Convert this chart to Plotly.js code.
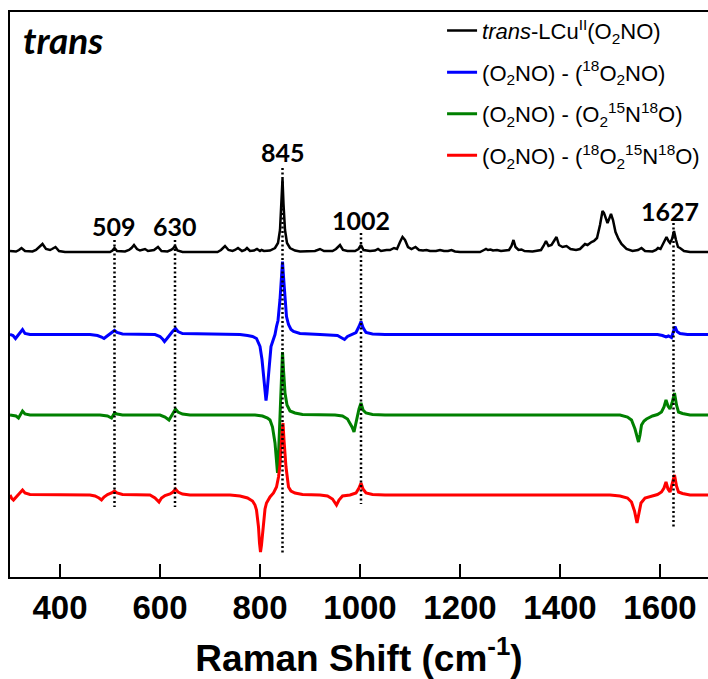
<!DOCTYPE html>
<html><head><meta charset="utf-8">
<script src="https://cdn.plot.ly/plotly-3.0.1.min.js"></script>
<style>html,body{margin:0;padding:0;background:#fff;overflow:hidden}</style>
</head><body><div id="chart" style="width:708px;height:679px"></div>
<script>
// ---- data (Raman shift cm-1, relative intensity) ----
const seriesNames = [
  '<i>trans</i>-LCu<sup>II</sup>(O<sub>2</sub>NO)',
  '(O<sub>2</sub>NO) - (<sup>18</sup>O<sub>2</sub>NO)',
  '(O<sub>2</sub>NO) - (O<sub>2</sub><sup>15</sup>N<sup>18</sup>O)',
  '(O<sub>2</sub>NO) - (<sup>18</sup>O<sub>2</sub><sup>15</sup>N<sup>18</sup>O)'
];
const seriesOffsets = [325, 242.5, 162, 82];

const blackPts = [[300,1],[312,0.5],[318,2],[323,4],[330,1],[345,0.5],[352,2],[358,5],[365,8],[372,3],[380,2],[384,3],[391,5],[398,1],[410,0],
[500,0],[505,1.5],[509,4],[514,1],[530,0.5],[538,2],[543,4],[548,7],[554,3],[560,1.5],[570,3],[576,1],[588,2],[596,5],[603,1],[615,0.5],[622,2],[626,3.5],[630,6],[635,1.5],[645,0],
[715,0],[722,2],[730,6],[737,2],[745,1],[750,2],[756,4],[764,1],[770,2],[774,4],[780,1],[788,1.5],[794,3],[800,1],[803,2],[808,1],[820,1.5],[830,4],[836,9],[840,22],[843,48],[845,73],[847,48],[850,22],[854,9],[860,4],[870,1.5],[880,0.5],
[910,1],[920,3],[928,1],[945,1],[952,3],[960,7],[966,2],[975,1],[990,1],[997,3],[1002,7],[1007,2],[1020,1],[1030,1.5],[1036,3],[1042,1],[1053,2],[1060,2],[1068,4],[1074,3],[1080,10],[1085,15],[1090,12],[1096,5],[1103,3],[1111,5],[1118,2],[1126,1.5],[1133,2],[1140,1],[1152,1],[1160,2],[1168,1],[1176,1],[1183,2],[1190,0.5],[1200,0],
[1240,0],[1248,2],[1252,3],[1256,2],[1261,2.5],[1266,1.5],[1274,2],[1282,1],[1298,2],[1303,6],[1307,12],[1311,5],[1317,2],[1323,2.5],[1329,1],[1345,0.5],[1362,2],[1367,6],[1372,11],[1377,6],[1383,7],[1388,11],[1393,15],[1398,7],[1405,5],[1413,6],[1421,3],[1432,2],[1440,3],[1446,6],[1450,8],[1455,7],[1460,9],[1463,10],[1468,11],[1474,14],[1480,27],[1485,41],[1488,39],[1492,32],[1495,29],[1499,34],[1502,38],[1506,32],[1511,20],[1517,13],[1523,8],[1533,3],[1545,1],[1556,2],[1563,4],[1570,1],[1585,0.5],[1592,2],[1596,4],[1601,3],[1606,8],[1613,15],[1617,11],[1620,9],[1624,13],[1628,21],[1632,12],[1636,5],[1640,4],[1648,1],[1660,0],[1696,0]];

const bluePts = [[300,0],[306,-1],[311,-4],[316,-1],[321,3],[325,5],[330,1],[340,0],[460,0],[475,-1],[483,-2.5],[488,-4],[493,-2],[500,1],[505,3],[509,4],[514,2],[525,0.5],
[590,0],[600,-2],[606,-5],[609,-7],[614,-4],[620,0],[625,3],[631,6],[636,3],[645,1],[700,0.5],[760,0],[775,-1],[785,-2],[793,-4],[800,-12],[804,-25],[807,-42],[810,-60],[812,-66],[814,-58],[817,-40],[819,-25],[822,-12],[826,-6],[830,0],[833,8],[836,14],[840,35],[843,60],[845,73],[847,58],[850,35],[853,18],[857,10],[862,5],[867,3],[880,1],
[920,0],[955,-1],[962,-3],[969,-5],[975,-2],[985,0],[992,2],[998,8],[1002,13],[1006,7],[1012,2],[1025,0.5],[1050,0],[1595,0],[1605,-1],[1612,-2.5],[1617,-1.5],[1623,-3],[1626,2],[1630,8],[1634,3],[1640,1],[1655,0],[1696,0]];

const greenPts = [[300,0],[312,-1],[317,-3],[321,0],[325,4],[330,1],[340,0],[480,0],[495,-1],[503,-3],[506,0],[509,2],[514,1],[525,0],
[600,0],[610,-2],[618,-5],[622,-2],[626,2],[631,6],[636,3],[645,1],[660,0],[790,0],[805,-1],[815,-3],[820,-5],[825,-12],[830,-28],[833,-45],[835,-58],[837,-40],[840,-5],[842,20],[844,45],[845,63],[847,45],[850,22],[854,10],[860,4],[870,2],[885,0.5],
[950,0],[965,-1],[975,-4],[980,-8],[984,-12],[988,-17],[991,-10],[994,-2],[998,6],[1002,12],[1006,5],[1012,2],[1025,0.5],[1050,0],[1520,0],[1535,-2],[1543,-5],[1550,-14],[1554,-22],[1557,-27],[1560,-20],[1563,-10],[1568,-6],[1573,-4],[1585,-1],[1595,0.5],[1603,3],[1608,8],[1612,15],[1616,9],[1620,6],[1624,12],[1629,22],[1633,10],[1637,3],[1645,1.5],[1660,0],[1696,0]];

const redPts = [[300,0],[303,-3],[307,-5],[312,-2],[318,1],[325,5],[330,2],[340,0.5],[460,0],[470,-1],[478,-3],[483,-5],[488,-2],[495,0.5],[503,2],[509,4],[514,2],[525,0.5],
[580,0],[590,-3],[598,-7],[603,-3],[610,-0.5],[620,1],[626,3],[631,6],[636,3],[645,1],[660,0],[740,0],[760,-1],[775,-3],[785,-6],[790,-10],[793,-15],[797,-32],[799,-48],[801,-57],[803,-50],[807,-25],[810,-14],[813,-8],[820,-2],[827,2],[833,8],[837,18],[840,30],[843,55],[846,72],[848,55],[852,28],[857,8],[862,4],[870,2],[885,0.5],
[920,0],[935,-1],[945,-4],[953,-10],[958,-5],[965,-1],[980,0],[992,2],[998,7],[1002,12],[1006,6],[1012,2],[1025,0.5],[1050,0],[1500,0],[1520,-1],[1535,-3],[1543,-7],[1549,-16],[1554,-28],[1558,-18],[1562,-8],[1570,-3],[1585,-1],[1595,0.5],[1603,3],[1608,7],[1612,13],[1616,6],[1620,3],[1624,10],[1629,20],[1633,9],[1637,3],[1645,1.5],[1660,0],[1696,0]];

const peakPositions = [509, 630, 845, 1002, 1627];
const peakLabels = ['509', '630', '845', '1002', '1627'];
const peakLineTop = [337, 337, 409, 344, 354];
const peakLineBottom = [70, 70, 24, 73, 50];
const peakLabelX = [507, 630, 845, 1002, 1620];
const peakLabelY = [351, 351, 425, 357, 366];
const tickValues = [400, 600, 800, 1000, 1200, 1400, 1600];

// ---- styles ----
const colors = ['#000000', '#0000ff', '#008000', '#ff0000'];
const widths = [2.5, 3, 3, 3];
const allPts = [blackPts, bluePts, greenPts, redPts];

const traces = allPts.map((pts, i) => ({
  type: 'scatter', mode: 'lines',
  x: pts.map(p => p[0]),
  y: pts.map(p => p[1] + seriesOffsets[i]),
  name: seriesNames[i],
  legendgroup: 'g' + i,
  line: {color: colors[i], width: widths[i]},
  hoverinfo: 'skip'
}));

const dx = [], dy = [];
peakPositions.forEach((p, i) => { dx.push(p, p, null); dy.push(peakLineTop[i], peakLineBottom[i], null); });
traces.push({type: 'scatter', mode: 'lines', x: dx, y: dy, showlegend: false,
  line: {color: '#000', width: 2.5, dash: '2px,2.5px'}, hoverinfo: 'skip'});

const annotations = peakLabels.map((t, i) => ({
  x: peakLabelX[i], y: peakLabelY[i], xref: 'x', yref: 'y', text: t, showarrow: false,
  xanchor: 'center', yanchor: 'middle',
  font: {family: 'Lato, Liberation Sans, sans-serif', size: 25, weight: 'bold', color: '#000'}
}));
annotations.push({
  x: 322, y: 538, xref: 'x', yref: 'y', text: '<b><i>trans</i></b>', showarrow: false,
  xanchor: 'left', yanchor: 'middle',
  font: {family: 'Lato, Liberation Sans, sans-serif', size: 37, color: '#000'}
});

const layout = {
  width: 708, height: 679,
  margin: {l: 10, r: 0, t: 12, b: 102},
  paper_bgcolor: '#fff', plot_bgcolor: '#fff',
  showlegend: true,
  legend: {x: 0.619, y: 1.004, xanchor: 'left', yanchor: 'top', bgcolor: 'rgba(0,0,0,0)',
    font: {family: 'Liberation Sans, Arial, sans-serif', size: 22, color: '#000'}, tracegroupgap: 10},
  xaxis: {
    range: [300, 1696], tickvals: tickValues, ticktext: tickValues.map(String),
    ticks: 'inside', ticklen: 13, tickwidth: 2, tickcolor: '#000',
    showline: true, linewidth: 2, linecolor: '#000', mirror: true,
    showgrid: false, zeroline: false,
    tickfont: {family: 'Liberation Sans, Arial, sans-serif', size: 33, weight: 'bold', color: '#000'},
    title: {text: 'Raman Shift (cm<sup>-1</sup>)', standoff: 23,
      font: {family: 'Liberation Sans, Arial, sans-serif', size: 37, weight: 'bold', color: '#000'}},
    automargin: false
  },
  yaxis: {
    range: [0, 565], showticklabels: false, ticks: '', showgrid: false, zeroline: false,
    showline: true, linewidth: 2, linecolor: '#000', mirror: false
  },
  annotations: annotations
};

Plotly.newPlot('chart', traces, layout, {displayModeBar: false, staticPlot: true});
</script>
</body></html>
